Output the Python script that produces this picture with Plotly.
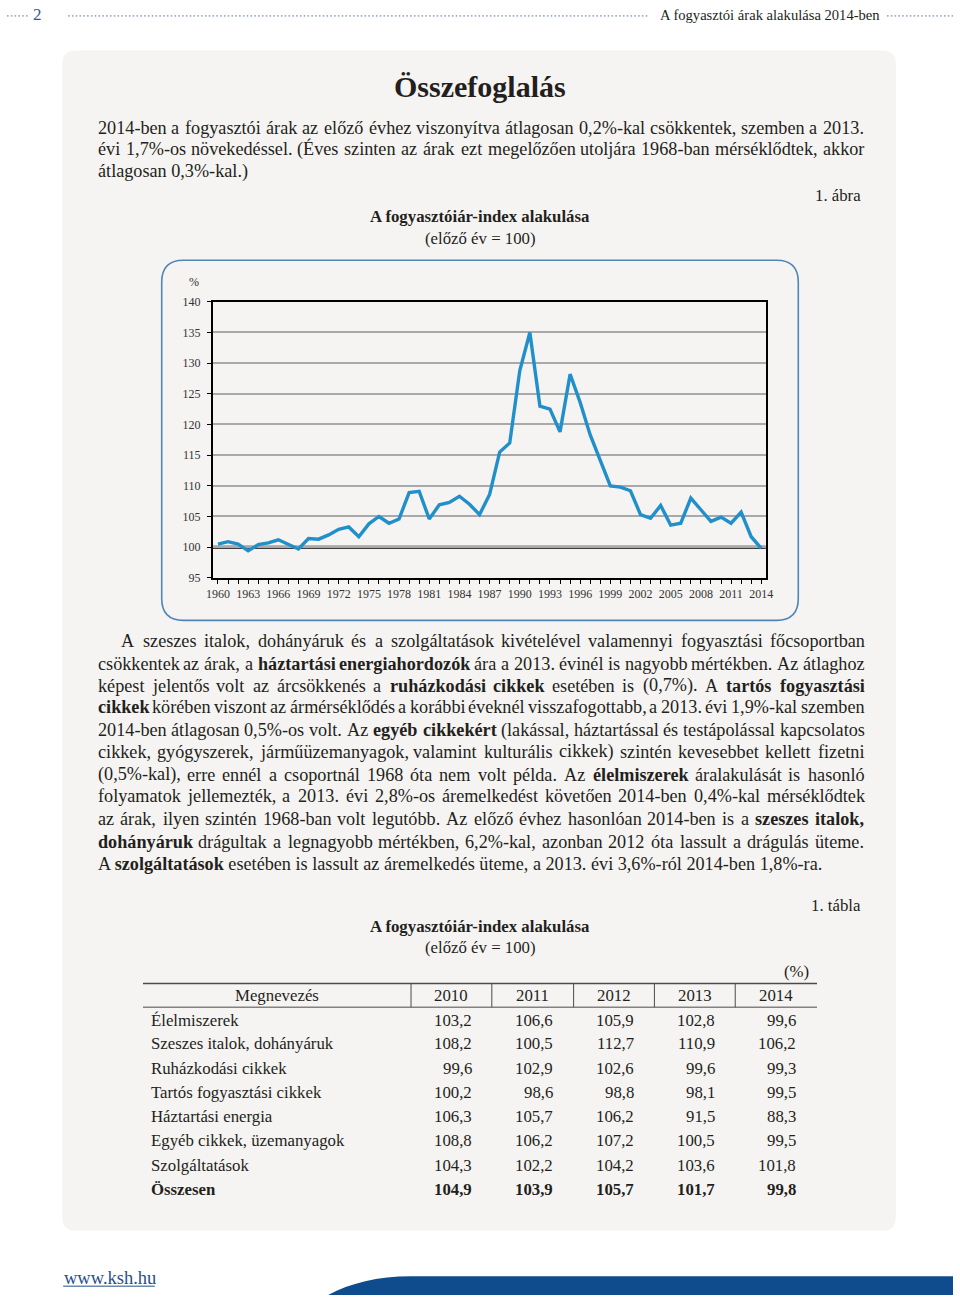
import unicodedata
import plotly.graph_objects as go

# ---------------- data ----------------
years = list(range(1960, 2015))
cpi = [100.5, 100.9, 100.5, 99.4, 100.4, 100.7, 101.2, 100.5, 99.7, 101.4,
       101.3, 102.0, 102.9, 103.3, 101.7, 103.8, 105.0, 103.9, 104.6, 108.9,
       109.1, 104.6, 106.9, 107.3, 108.3, 107.0, 105.3, 108.6, 115.5, 117.0,
       128.8, 135.0, 123.0, 122.5, 118.8, 128.2, 123.6, 118.3, 114.3, 110.0,
       109.8, 109.2, 105.3, 104.7, 106.8, 103.6, 103.9, 108.0, 106.1, 104.2,
       104.9, 103.9, 105.7, 101.7, 99.8]

table_years = ["2010", "2011", "2012", "2013", "2014"]
row_names = ["Élelmiszerek", "Szeszes italok, dohányáruk", "Ruházkodási cikkek",
             "Tartós fogyasztási cikkek", "Háztartási energia",
             "Egyéb cikkek, üzemanyagok", "Szolgáltatások", "Összesen"]
v2010 = [103.2, 108.2, 99.6, 100.2, 106.3, 108.8, 104.3, 104.9]
v2011 = [106.6, 100.5, 102.9, 98.6, 105.7, 106.2, 102.2, 103.9]
v2012 = [105.9, 112.7, 102.6, 98.8, 106.2, 107.2, 104.2, 105.7]
v2013 = [102.8, 110.9, 99.6, 98.1, 91.5, 100.5, 103.6, 101.7]
v2014 = [99.6, 106.2, 99.3, 99.5, 88.3, 99.5, 101.8, 99.8]
table_cols = [v2010, v2011, v2012, v2013, v2014]

para1 = [
    "2014-ben a fogyasztói árak az előző évhez viszonyítva átlagosan 0,2%-kal csökkentek, szemben a 2013.",
    "évi 1,7%-os növekedéssel. (Éves szinten az árak ezt megelőzően utoljára 1968-ban mérséklődtek, akkor",
    "átlagosan 0,3%-kal.)",
]
para2 = [
    "A szeszes italok, dohányáruk és a szolgáltatások kivételével valamennyi fogyasztási főcsoportban",
    "csökkentek az árak, a *háztartási *energiahordozók ára a 2013. évinél is nagyobb mértékben. Az átlaghoz",
    "képest jelentős volt az árcsökkenés a *ruházkodási *cikkek esetében is (0,7%). A *tartós *fogyasztási",
    "*cikkek körében viszont az ármérséklődés a korábbi éveknél visszafogottabb, a 2013. évi 1,9%-kal szemben",
    "2014-ben átlagosan 0,5%-os volt. Az *egyéb *cikkekért (lakással, háztartással és testápolással kapcsolatos",
    "cikkek, gyógyszerek, járműüzemanyagok, valamint kulturális cikkek) szintén kevesebbet kellett fizetni",
    "(0,5%-kal), erre ennél a csoportnál 1968 óta nem volt példa. Az *élelmiszerek áralakulását is hasonló",
    "folyamatok jellemezték, a 2013. évi 2,8%-os áremelkedést követően 2014-ben 0,4%-kal mérséklődtek",
    "az árak, ilyen szintén 1968-ban volt legutóbb. Az előző évhez hasonlóan 2014-ben is a *szeszes *italok,",
    "*dohányáruk drágultak a legnagyobb mértékben, 6,2%-kal, azonban 2012 óta lassult a drágulás üteme.",
    "A *szolgáltatások esetében is lassult az áremelkedés üteme, a 2013. évi 3,6%-ról 2014-ben 1,8%-ra.",
]

# ---------------- helpers ----------------
W, H = 960, 1308
FONT = "Liberation Serif"
INK = "#231f20"


def X(px):
    return px / W


def Y(py):
    return 1 - py / H


TR = {' ': 250, '!': 333, '%': 833, '(': 333, ')': 333, ',': 250, '-': 333, '.': 250,
      ':': 278, ';': 278, '=': 564, '/': 278,
      'A': 722, 'B': 667, 'C': 667, 'D': 722, 'E': 611, 'F': 556, 'G': 722, 'H': 722,
      'I': 333, 'J': 389, 'K': 722, 'L': 611, 'M': 889, 'N': 722, 'O': 722, 'P': 556,
      'Q': 722, 'R': 667, 'S': 556, 'T': 611, 'U': 722, 'V': 722, 'W': 944, 'X': 722,
      'Y': 722, 'Z': 611,
      'a': 444, 'b': 500, 'c': 444, 'd': 500, 'e': 444, 'f': 333, 'g': 500, 'h': 500,
      'i': 278, 'j': 278, 'k': 500, 'l': 278, 'm': 778, 'n': 500, 'o': 500, 'p': 500,
      'q': 500, 'r': 333, 's': 389, 't': 278, 'u': 500, 'v': 500, 'w': 722, 'x': 500,
      'y': 500, 'z': 444}
TB = {' ': 250, '!': 333, '%': 1000, '(': 333, ')': 333, ',': 250, '-': 333, '.': 250,
      ':': 333, ';': 333, '=': 570, '/': 278,
      'A': 722, 'B': 667, 'C': 722, 'D': 722, 'E': 667, 'F': 611, 'G': 778, 'H': 778,
      'I': 389, 'J': 500, 'K': 778, 'L': 667, 'M': 944, 'N': 722, 'O': 778, 'P': 611,
      'Q': 778, 'R': 722, 'S': 556, 'T': 667, 'U': 722, 'V': 722, 'W': 1000, 'X': 722,
      'Y': 722, 'Z': 667,
      'a': 500, 'b': 556, 'c': 444, 'd': 556, 'e': 444, 'f': 333, 'g': 500, 'h': 556,
      'i': 278, 'j': 333, 'k': 556, 'l': 278, 'm': 833, 'n': 556, 'o': 500, 'p': 556,
      'q': 556, 'r': 444, 's': 389, 't': 333, 'u': 556, 'v': 500, 'w': 722, 'x': 500,
      'y': 500, 'z': 444}


def text_w(s, bold, size):
    tab = TB if bold else TR
    tot = 0
    for ch in s:
        base = unicodedata.normalize("NFD", ch)[0]
        if base.isdigit():
            tot += 500
        else:
            tot += tab.get(base, 500)
    return tot * size / 1000.0


annotations = []
shapes = []


def ann(text, x, y, size, xanchor="left", color=INK, bold=False, family=FONT):
    if bold:
        text = "<b>" + text + "</b>"
    annotations.append(dict(text=text, x=X(x), y=Y(y), xref="paper", yref="paper",
                            xanchor=xanchor, yanchor="middle", showarrow=False,
                            borderpad=0, font=dict(family=family, size=size, color=color)))


def place_line(line, x0, x1, y, size, justify):
    toks = []
    for w in line.split(" "):
        if w.startswith("*"):
            toks.append((w[1:], True))
        else:
            toks.append((w, False))
    if not justify:
        parts = []
        for w, b in toks:
            parts.append("<b>%s</b>" % w if b else w)
        ann(" ".join(parts), x0, y, size)
        return
    n = len(toks)
    nat = sum(text_w(w, b, size) for w, b in toks)
    gap = (x1 - x0 - nat) / (n - 1)
    if gap < 0.17 * size:
        size = (x1 - x0) / (nat / size + (n - 1) * 0.17)
        nat = sum(text_w(w, b, size) for w, b in toks)
        gap = (x1 - x0 - nat) / (n - 1)
    x = x0
    for w, b in toks:
        ann(w, x, y, size, bold=b)
        x += text_w(w, b, size) + gap


def rrect(x0, y0, x1, y1, r):
    p = [
        "M", X(x0 + r), Y(y0), "L", X(x1 - r), Y(y0),
        "Q", X(x1), Y(y0), X(x1), Y(y0 + r),
        "L", X(x1), Y(y1 - r),
        "Q", X(x1), Y(y1), X(x1 - r), Y(y1),
        "L", X(x0 + r), Y(y1),
        "Q", X(x0), Y(y1), X(x0), Y(y1 - r),
        "L", X(x0), Y(y0 + r),
        "Q", X(x0), Y(y0), X(x0 + r), Y(y0), "Z"]
    out = []
    for t in p:
        out.append(t if isinstance(t, str) else "%.5f" % t)
    return " ".join(out)


def hline(x0, x1, y, color, width, dash="solid"):
    shapes.append(dict(type="line", xref="paper", yref="paper", x0=X(x0), x1=X(x1),
                       y0=Y(y), y1=Y(y), line=dict(color=color, width=width, dash=dash),
                       layer="below"))


def vline(x, y0, y1, color, width):
    shapes.append(dict(type="line", xref="paper", yref="paper", x0=X(x), x1=X(x),
                       y0=Y(y0), y1=Y(y1), line=dict(color=color, width=width),
                       layer="below"))


# ---------------- page decoration ----------------
PANEL = "#f6f4f2"
shapes.append(dict(type="path", xref="paper", yref="paper", path=rrect(56, 44, 902, 1237, 14),
                   fillcolor=PANEL, line=dict(width=0), layer="below"))
shapes.append(dict(type="path", xref="paper", yref="paper", path=rrect(157, 256, 803, 620, 22),
                   fillcolor="rgba(0,0,0,0)", line=dict(color="#4f86b6", width=1.6),
                   layer="below"))

# header
DOT = "#9fb0c6"
hline(0, 22, 9, DOT, 1.6, "1.6px,2.2px")
hline(62, 652, 9, DOT, 1.6, "1.6px,2.2px")
hline(893, 960, 9, DOT, 1.6, "1.6px,2.2px")
ann("2", 31, 8, 17, xanchor="center", color="#1f5c9c")
ann("A fogyasztói árak alakulása 2014-ben", 662, 8, 14.6)

# footer
ann("www.ksh.hu", 57, 1285, 18.5, color="#1f4f8f")
hline(57, 150, 1293, "#1f4f8f", 1)
swoosh = ("M %.5f %.5f C %.5f %.5f %.5f %.5f %.5f %.5f L %.5f %.5f L %.5f %.5f Z" %
          (X(326), Y(1302), X(348), Y(1290), X(376), Y(1283), X(410), Y(1283),
           X(960), Y(1283), X(960), Y(1302)))
shapes.append(dict(type="path", xref="paper", yref="paper", path=swoosh,
                   fillcolor="#0f4c8d", line=dict(width=0), layer="below"))

# titles and paragraphs
ann("Összefoglalás", 480, 80, 30, xanchor="center", bold=True)
BODY = 18.2
p1_y = [122, 144, 166]
for i, line in enumerate(para1):
    place_line(line, 91, 868, p1_y[i], BODY, justify=(i < len(para1) - 1))

TSZ = 16.8
ann("1. ábra", 868, 191, TSZ, xanchor="right")
ann("A fogyasztóiár-index alakulása", 480, 212, TSZ, xanchor="center", bold=True)
ann("(előző év = 100)", 480, 234, TSZ, xanchor="center")
ann("%", 190, 278, 12, xanchor="center", color="#333333")

p2_y = [641, 664, 686, 708, 731, 753, 776, 798, 821, 844, 866]
for i, line in enumerate(para2):
    x0 = 115 if i == 0 else 91
    place_line(line, x0, 868, p2_y[i], BODY, justify=(i < len(para2) - 1))

# ---------------- table ----------------
ann("1. tábla", 868, 908, TSZ, xanchor="right")
ann("A fogyasztóiár-index alakulása", 480, 929, TSZ, xanchor="center", bold=True)
ann("(előző év = 100)", 480, 951, TSZ, xanchor="center")
ann("(%)", 815, 975, TSZ, xanchor="right")

TB_SIZE = 16.8
hline(138, 822, 987, "#4a4a4a", 1.4)
hline(138, 822, 1011, "#4a4a4a", 1.0)
for xv in [410, 492, 575, 657, 739]:
    vline(xv, 987, 1011, "#4a4a4a", 1.0)
ann("Megnevezés", 274, 999, TB_SIZE, xanchor="center")
col_centers = [451, 533, 616, 698, 780]
col_rights = [473, 555, 637, 719, 802]
for j, yr in enumerate(table_years):
    ann(yr, col_centers[j], 999, TB_SIZE, xanchor="center")
row_y = [1024, 1048, 1073, 1097, 1122, 1146, 1171, 1195]
for i, name in enumerate(row_names):
    last = (i == len(row_names) - 1)
    ann(name, 145, row_y[i], TB_SIZE, bold=last)
    for j, col in enumerate(table_cols):
        ann(("%.1f" % col[i]).replace(".", ","), col_rights[j], row_y[i], TB_SIZE,
            xanchor="right", bold=last)

# ---------------- chart ----------------
fig = go.Figure()
fig.add_trace(go.Scatter(x=years, y=cpi, mode="lines",
                         line=dict(color="#2190ca", width=3.4), hoverinfo="x+y"))

shapes.append(dict(type="line", xref="x domain", yref="y", x0=0, x1=1, y0=100, y1=100,
                   line=dict(color="black", width=3), layer="below"))

tickfont = dict(family=FONT, size=12, color="#333333")
fig.update_layout(
    width=W, height=H, margin=dict(l=0, r=0, t=0, b=0),
    paper_bgcolor="white", plot_bgcolor="rgba(0,0,0,0)", showlegend=False,
    xaxis=dict(domain=[X(209), X(770)], range=[1959.5, 2014.45],
               tickmode="linear", tick0=1960, dtick=3,
               ticks="outside", ticklen=4, tickwidth=1, tickcolor="black",
               showline=True, linecolor="black", linewidth=2, mirror=True,
               showgrid=False, zeroline=False, tickfont=tickfont, ticklabelstandoff=0,
               minor=dict(tick0=1960, dtick=1, ticks="outside", ticklen=4,
                          tickcolor="black", tickwidth=1, showgrid=False)),
    yaxis=dict(domain=[Y(577), Y(298)], range=[95, 140], tickmode="linear",
               tick0=95, dtick=5, ticks="outside", ticklen=4, tickwidth=1,
               tickcolor="black", showline=True, linecolor="black", linewidth=2,
               mirror=True, showgrid=True, gridcolor="#a9a9a9", gridwidth=1.5,
               zeroline=False, tickfont=tickfont, ticklabelstandoff=4),
    shapes=shapes, annotations=annotations,
)

fig.write_html("out.html",
               config={"displayModeBar": False, "responsive": False},
               post_script=(
                   "document.documentElement.style.margin='0px';"
                   "document.documentElement.style.padding='0px';"
                   "document.documentElement.style.overflow='hidden';"
                   "document.body.style.margin='0px';"
                   "document.body.style.padding='0px';"
                   "document.body.style.overflow='hidden';"
                   "var gd=document.getElementById('{plot_id}');"
                   "gd.style.position='absolute';gd.style.left='0px';gd.style.top='0px';"
               ))
